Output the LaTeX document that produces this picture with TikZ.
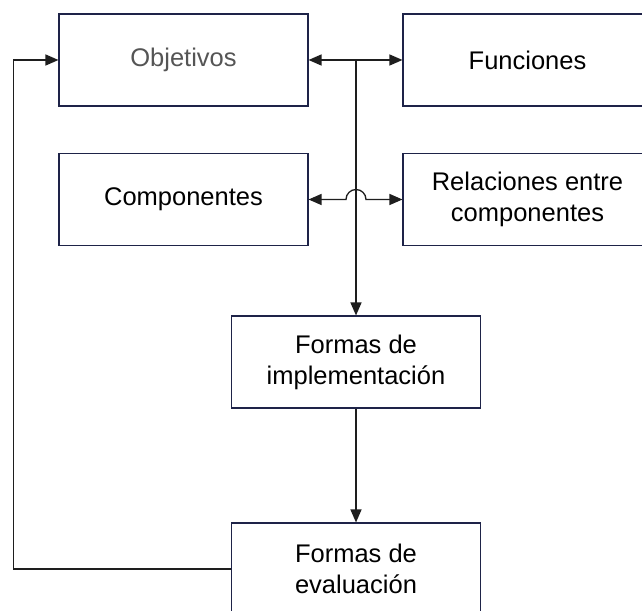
\documentclass[tikz,border=0pt]{standalone}
\usepackage{fontspec}
\setmainfont{Liberation Sans}
\usetikzlibrary{arrows.meta}
\definecolor{boxline}{RGB}{30,35,72}
\definecolor{conn}{RGB}{30,30,30}
\definecolor{graytxt}{RGB}{85,85,85}
\tikzset{
  box/.style={draw=boxline, line width=1.1pt, fill=white, minimum width=249pt, minimum height=92pt,
    inner sep=0pt, align=center, font=\fontsize{25.5}{31}\selectfont},
  conn/.style={draw=conn, line width=1.3pt},
  tip/.style={-{Triangle[length=13pt,width=11pt]}},
  tips/.style={{Triangle[length=13pt,width=11pt]}-{Triangle[length=13pt,width=11pt]}}
}
\begin{document}
\begin{tikzpicture}[x=1pt,y=1pt]
\useasboundingbox (0,0) rectangle (642,610);
\clip (0,0) rectangle (642,610);
\fill[white] (0,0) rectangle (642,610);
\node[box, text=graytxt] (obj) at (183.5,550) {Objetivos};
\node[box] (fun) at (527.5,550) {Funciones};
\node[box] (comp) at (183.5,410.5) {Componentes};
\node[box] (rel) at (527.5,410.5) {Relaciones entre\\componentes};
\node[box] (impl) at (356,248) {Formas de\\implementación};
\node[box] (eval) at (356,41) {Formas de\\evaluación};
\coordinate (jn) at (356,550);
\coordinate (hopL) at (346,410.5);
\coordinate (fbB) at (13.5,41);
\coordinate (fbT) at (13.5,550);
\draw[conn, tips] (obj.east) -- (fun.west);
\draw[conn, tip] (jn) -- (impl.north);
\draw[conn, tips] (comp.east) -- (hopL) arc[start angle=180, end angle=0, radius=10] -- (rel.west);
\draw[conn, tip] (impl.south) -- (eval.north);
\draw[conn, tip] (eval.west) -- (fbB) -- (fbT) -- (obj.west);
\end{tikzpicture}
\end{document}
